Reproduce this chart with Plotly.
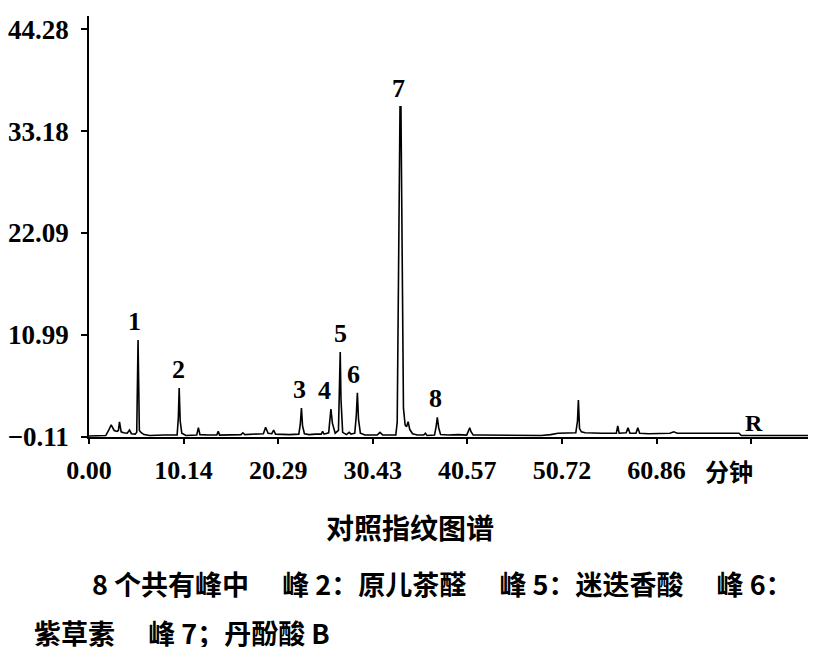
import plotly.graph_objects as go

# ---- data ----
rt = [0.0, 1.8, 2.1, 2.38, 2.7, 3.0, 3.15, 3.27, 3.45, 3.7, 4.1, 4.34, 4.55, 4.95, 5.12, 5.26, 5.4, 5.6, 5.9, 6.5,
      8.0, 9.45, 9.58, 9.67, 9.78, 9.95, 10.4, 11.55, 11.73, 11.9, 12.8, 13.7, 13.86, 14.0, 16.3, 16.5, 16.7,
      18.0, 18.7, 18.94, 19.2, 19.6, 19.8, 20.0, 21.5, 22.5, 22.65, 22.78, 22.9, 23.1, 23.6, 24.3, 24.9, 25.05, 25.2,
      25.7, 25.82, 25.94, 26.1, 26.4, 26.75, 26.87, 26.94, 27.02, 27.2, 27.6, 27.9, 28.1, 28.5, 28.66, 28.78, 28.9, 29.1,
      29.6, 30.9, 31.2, 31.5, 32.6, 32.9, 33.05, 33.2, 33.35, 33.45, 33.58, 33.72, 33.9, 34.05, 34.22, 34.4, 34.7, 35.2,
      35.9, 36.07, 36.25, 37.05, 37.22, 37.35, 37.5, 37.7, 38.5, 39.6, 40.5, 40.7, 40.83, 40.95, 41.2, 42.0, 45.0, 48.5,
      49.5, 50.3, 52.2, 52.38, 52.48, 52.6, 52.8, 53.2, 55.0, 56.55, 56.7, 56.85, 57.6, 57.8, 58.0, 58.65, 58.85, 59.05,
      60.0, 62.3, 62.7, 63.1, 66.0, 69.7, 69.95, 73.0, 77.1]
signal = [0.0, 0.05, 0.6, 1.2, 0.6, 0.5, 0.6, 1.53, 0.45, 0.35, 0.3, 0.65, 0.25, 0.2, 0.4, 10.45, 0.6, 0.35, 0.15, 0.05,
          0.1, 0.1, 2.0, 5.22, 1.6, 0.3, 0.05, 0.1, 0.9, 0.15, 0.1, 0.1, 0.5, 0.1, 0.15, 0.35, 0.15,
          0.2, 0.25, 0.95, 0.3, 0.25, 0.65, 0.2, 0.15, 0.2, 1.2, 3.04, 1.1, 0.25, 0.15, 0.2, 0.2, 0.5, 0.2,
          0.35, 1.6, 2.94, 1.4, 0.3, 0.6, 5.0, 9.14, 4.0, 0.4, 0.15, 0.4, 0.2, 0.3, 2.2, 4.71, 1.8, 0.3,
          0.1, 0.1, 0.4, 0.1, 0.1, 0.1, 1.5, 22.0, 35.83, 35.83, 20.0, 3.0, 1.2, 1.0, 1.56, 0.7, 0.25, 0.1,
          0.1, 0.3, 0.05, 0.1, 1.0, 2.03, 0.9, 0.15, 0.1, 0.15, 0.1, 0.5, 0.9, 0.5, 0.1, 0.1, 0.05, 0.05,
          0.15, 0.3, 0.35, 1.6, 3.92, 0.8, 0.45, 0.35, 0.3, 0.3, 1.09, 0.3, 0.35, 0.9, 0.3, 0.3, 0.9, 0.3,
          0.25, 0.3, 0.45, 0.3, 0.3, 0.3, 0.05, 0.05, 0.05]

peak_ids = ["1", "2", "3", "4", "5", "6", "7", "8"]
peak_rt = [5.26, 9.67, 22.78, 25.94, 26.94, 28.78, 33.40, 37.35]
peak_h = [10.45, 5.22, 3.04, 2.94, 9.14, 4.71, 35.83, 2.03]

x_tickvals = [0.0, 10.14, 20.29, 30.43, 40.57, 50.72, 60.86, 71.0]
x_ticktext = ["0.00", "10.14", "20.29", "30.43", "40.57", "50.72", "60.86", ""]
y_tickvals = [-0.11, 10.99, 22.09, 33.18, 44.28]
y_ticktext = ["\u22120.11", "10.99", "22.09", "33.18", "44.28"]

x_unit = "分钟"
ref_label = "R"
ref_rt = 71.0
caption = "对照指纹图谱"
note_line1 = "8 个共有峰中\u3000 峰 2：原儿茶醛\u3000 峰 5：迷迭香酸\u3000 峰 6："
note_line2 = "紫草素\u3000 峰 7；丹酚酸 B"

# ---- layout geometry (figure pixels; the page body adds an 8px offset) ----
OFF = 8
W, H = 800, 643
L, R, T = 85 - OFF, 0, 16 - OFF
B = H - (437 - OFF)
PW, PH = W - L - R, H - T - B


def px(xpage):
    return (xpage - OFF - L) / PW


def py(ypage):
    return (H - B - (ypage - OFF)) / PH


SERIF = "Liberation Serif"
CJK = "Noto Sans CJK SC"

fig = go.Figure()
fig.add_trace(go.Scatter(x=rt, y=signal, mode="lines",
                         line=dict(color="black", width=1.6), hoverinfo="skip",
                         showlegend=False, cliponaxis=False))

annotations = []
xshifts = {"1": -4, "2": -1, "3": -2, "4": -6, "5": 0, "6": -4, "7": -2, "8": -2}
for pid, x, y in zip(peak_ids, peak_rt, peak_h):
    annotations.append(dict(x=x, y=y, xref="x", yref="y", text=pid, showarrow=False,
                            yanchor="bottom", yshift=2, xshift=xshifts[pid],
                            font=dict(family=SERIF, size=26, color="black", weight="bold")))

annotations.append(dict(x=ref_rt, y=-0.11, xref="x", yref="y", text=ref_label, showarrow=False,
                        yanchor="bottom", yshift=-1, xshift=3,
                        font=dict(family=SERIF, size=24, color="black", weight="bold")))

annotations.append(dict(x=px(729), y=py(470), xref="paper", yref="paper", text=x_unit,
                        showarrow=False, xanchor="center", yanchor="middle",
                        font=dict(family=CJK, size=24, color="black", weight="bold")))
annotations.append(dict(x=px(408), y=py(527), xref="paper", yref="paper", text=caption,
                        showarrow=False, xanchor="center", yanchor="middle",
                        font=dict(family=CJK, size=28, color="black", weight="bold")))
annotations.append(dict(x=px(86), y=py(583), xref="paper", yref="paper", text=note_line1,
                        showarrow=False, xanchor="left", yanchor="middle",
                        font=dict(family=CJK, size=27, color="black", weight="bold")))
annotations.append(dict(x=px(28), y=py(632), xref="paper", yref="paper", text=note_line2,
                        showarrow=False, xanchor="left", yanchor="middle", height=30,
                        valign="middle",
                        font=dict(family=CJK, size=27, color="black", weight="bold")))

fig.update_layout(
    width=W, height=H, autosize=False,
    margin=dict(l=L, r=R, t=T, b=B, pad=0),
    paper_bgcolor="white", plot_bgcolor="white",
    showlegend=False,
    annotations=annotations,
    xaxis=dict(range=[0, 77.1], showgrid=False, zeroline=False,
               showline=True, linecolor="black", linewidth=1.5,
               ticks="outside", ticklen=5, tickwidth=1.5, tickcolor="black",
               tickvals=x_tickvals, ticktext=x_ticktext, ticklabelstandoff=4,
               tickfont=dict(family=SERIF, size=26, color="black", weight="bold")),
    yaxis=dict(range=[-0.11, 45.7], showgrid=False, zeroline=False,
               showline=True, linecolor="black", linewidth=1.5,
               ticks="outside", ticklen=6, tickwidth=1.5, tickcolor="black",
               tickvals=y_tickvals, ticktext=y_ticktext, ticklabelstandoff=7,
               tickfont=dict(family=SERIF, size=27, color="black", weight="bold")),
)

fig.write_html("out.html")
